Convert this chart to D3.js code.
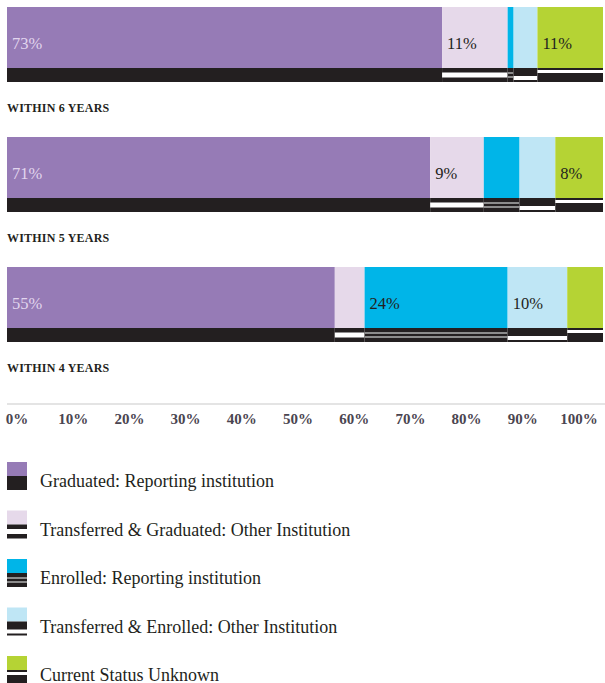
<!DOCTYPE html>
<html>
<head>
<meta charset="utf-8">
<script src="https://cdn.jsdelivr.net/npm/d3@7"></script>
<style>
    body { margin: 0; background: #fff; }
    svg { display: block; }
</style>
</head>
<body>
<div id="chart"></div>
<script>
// data
const years = ['WITHIN 6 YEARS', 'WITHIN 5 YEARS', 'WITHIN 4 YEARS'];
const statuses = [
    'Graduated: Reporting institution',
    'Transferred & Graduated: Other Institution',
    'Enrolled: Reporting institution',
    'Transferred & Enrolled: Other Institution',
    'Current Status Unknown'
];
const graduated = [73, 71, 55];
const transferredGraduated = [11, 9, 5];
const enrolled = [1, 6, 24];
const transferredEnrolled = [4, 6, 10];
const unknown = [11, 8, 6];
const ticks = [0, 10, 20, 30, 40, 50, 60, 70, 80, 90, 100];

const series = [graduated, transferredGraduated, enrolled, transferredEnrolled, unknown];

const width = 605;
const height = 683;
const ink = '#231f20';

const colors = ['#967bb6', '#e6d9ea', '#00b5e8', '#bfe6f5', '#b5d334'];
// bands of the dark strip under each segment, as [from, to, colour] in px
const strips = [
    [[0, 14, ink]],
    [[0, 14, ink], [4.5, 9.5, '#fff']],
    [[0, 14, ink], [4, 6, '#8c8c8c'], [8, 10, '#8c8c8c']],
    [[0, 14, ink], [8, 12, '#fff']],
    [[0, 14, ink], [2, 5, '#fff']]
];

const rows = years.map((y, i) => {
    const row = {year: y};
    statuses.forEach((s, k) => row[s] = series[k][i]);
    return row;
});

const stacked = d3.stack().keys(statuses)(rows);

const svg = d3.select('#chart').append('svg')
    .attr('width', width)
    .attr('height', height);

const x = d3.scaleLinear().domain([0, 100]).range([7, 603]);
const y = d3.scaleBand().domain(years).range([7, 342]).paddingInner(55 / 130).paddingOuter(0);
const colorH = 61;

const layers = svg.selectAll('g.layer')
    .data(stacked)
    .join('g')
    .attr('class', 'layer');

layers.each(function(layer, k) {
    const g = d3.select(this);
    g.selectAll('rect.seg')
        .data(layer)
        .join('rect')
        .attr('class', 'seg')
        .attr('x', d => x(d[0]))
        .attr('y', d => y(d.data.year))
        .attr('width', d => x(d[1]) - x(d[0]))
        .attr('height', colorH)
        .attr('fill', colors[k]);

    layer.forEach(d => {
        strips[k].forEach(b => {
            g.append('rect')
                .attr('x', x(d[0]))
                .attr('y', y(d.data.year) + colorH + b[0])
                .attr('width', x(d[1]) - x(d[0]))
                .attr('height', b[1] - b[0])
                .attr('fill', b[2]);
        });
    });

    g.selectAll('text.val')
        .data(layer.filter(d => d[1] - d[0] >= 7))
        .join('text')
        .attr('class', 'val')
        .attr('x', d => x(d[0]) + 5)
        .attr('y', d => y(d.data.year) + 42)
        .attr('font-family', 'Liberation Serif, serif')
        .attr('font-size', 16.5)
        .attr('fill', k === 0 ? '#e2d6ee' : ink)
        .text(d => `${d[1] - d[0]}%`);
});

// row titles
svg.selectAll('text.year')
    .data(years)
    .join('text')
    .attr('class', 'year')
    .attr('x', 7)
    .attr('y', d => y(d) + 105)
    .attr('font-family', 'Liberation Serif, serif')
    .attr('font-weight', 'bold')
    .attr('font-size', 12)
    .attr('letter-spacing', 0.2)
    .attr('fill', ink)
    .text(d => d);

// axis
const xa = d3.scaleLinear().domain([0, 100]).range([17, 579]);
svg.append('line')
    .attr('x1', 7).attr('x2', width)
    .attr('y1', 404).attr('y2', 404)
    .attr('stroke', '#e4e4e4')
    .attr('stroke-width', 2);

svg.selectAll('text.tick')
    .data(ticks)
    .join('text')
    .attr('class', 'tick')
    .attr('x', d => xa(d))
    .attr('y', 424)
    .attr('text-anchor', 'middle')
    .attr('font-family', 'Liberation Serif, serif')
    .attr('font-weight', 'bold')
    .attr('font-size', 15)
    .attr('fill', '#4a4550')
    .text(d => `${d}%`);

// legend
const legend = svg.append('g');
const item = legend.selectAll('g')
    .data(statuses)
    .join('g')
    .attr('transform', (d, i) => `translate(7, ${481 + i * 48.5})`);

item.append('rect')
    .attr('x', 0).attr('y', -19)
    .attr('width', 20).attr('height', 14)
    .attr('fill', (d, i) => colors[i]);

item.each(function(d, i) {
    const g = d3.select(this);
    strips[i].forEach(b => {
        g.append('rect')
            .attr('x', 0)
            .attr('y', -5 + b[0])
            .attr('width', 20)
            .attr('height', b[1] - b[0])
            .attr('fill', b[2]);
    });
});

item.append('text')
    .attr('x', 33)
    .attr('y', 6)
    .attr('font-family', 'Liberation Serif, serif')
    .attr('font-size', 18)
    .attr('fill', ink)
    .text(d => d);
</script>
</body>
</html>
